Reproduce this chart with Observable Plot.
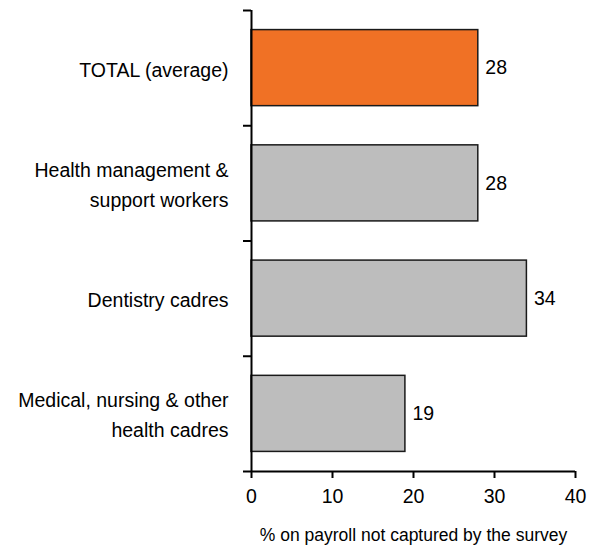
<!DOCTYPE html>
<html>
<head>
<meta charset="utf-8">
<script src="https://cdn.jsdelivr.net/npm/d3@7"></script>
<script src="https://cdn.jsdelivr.net/npm/@observablehq/plot@0.6"></script>
<style>
  html, body { margin: 0; padding: 0; background: #fff; }
</style>
</head>
<body>
<div id="chart"></div>
<script>
const categories = [
  "TOTAL (average)",
  "Health management &\nsupport workers",
  "Dentistry cadres",
  "Medical, nursing & other\nhealth cadres"
];
const values = [28, 28, 34, 19];
const highlight = [true, false, false, false];
const xTicks = [0, 10, 20, 30, 40];
const xLabel = "% on payroll not captured by the survey";

const orange = "#F07125";
const grey = "#BDBDBD";

const data = categories.map((c, i) => ({category: c, value: values[i], index: i, hl: highlight[i]}));
const boundaries = d3.range(0, categories.length + 1);

const chart = Plot.plot({
  width: 597,
  height: 553,
  marginLeft: 251,
  marginRight: 22,
  marginTop: 10,
  marginBottom: 82,
  style: {fontFamily: "'Liberation Sans', Arial, Helvetica, sans-serif", fontSize: "19.5px", color: "#000", background: "#fff"},
  x: {domain: [0, 40]},
  y: {domain: [0, categories.length], reverse: true},
  marks: [
    Plot.rectX(data, {
      x1: 0, x2: "value",
      y1: d => d.index + 0.17, y2: d => d.index + 0.83,
      fill: d => d.hl ? orange : grey,
      stroke: "#1a1a1a", strokeWidth: 1.5
    }),
    Plot.text(data, {
      x: "value", y: d => d.index + 0.5, text: d => String(d.value),
      textAnchor: "start", dx: 7, fontSize: 19.5, fill: "#000"
    }),
    Plot.text(data, {
      x: 0, y: d => d.index + 0.5, text: "category",
      textAnchor: "end", dx: -23, dy: -1, lineHeight: 1.54, fontSize: 19.5, fill: "#000"
    }),
    Plot.axisX({ticks: xTicks, tickSize: 7, tickPadding: 11, fontSize: 19.5, strokeWidth: 2, label: null}),
    Plot.axisY({ticks: boundaries, tickSize: 8, tickFormat: () => "", strokeWidth: 2, label: null}),
    Plot.ruleX([0], {y1: 0, y2: categories.length, stroke: "#000", strokeWidth: 2}),
    Plot.ruleY([categories.length], {x1: 0, x2: 40, stroke: "#000", strokeWidth: 2}),
    Plot.text([xLabel], {frameAnchor: "bottom", dy: 69, fontSize: 17.5, fill: "#000"})
  ]
});
document.getElementById("chart").appendChild(chart);
</script>
</body>
</html>
